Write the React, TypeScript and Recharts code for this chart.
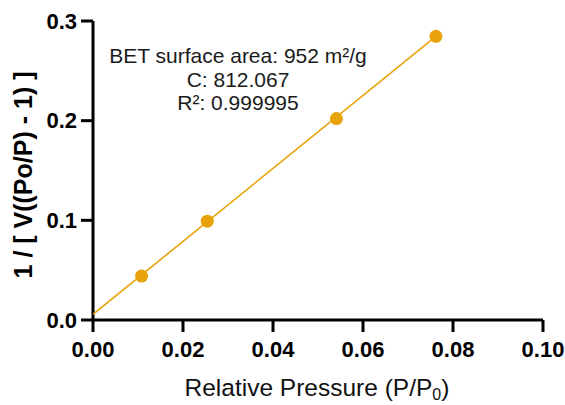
import React from "react";
import {
  ScatterChart,
  Scatter,
  XAxis,
  YAxis,
  Label,
} from "recharts";

// measured BET points (P/P0, 1/[V((Po/P)-1)])
const pressure = [0.0108, 0.0254, 0.0541, 0.0762];
const betValue = [0.0441, 0.0992, 0.2021, 0.2846];

// fitted line end points
const fitX = [0, 0.0762];
const fitY = [0.0057, 0.2846];

const xTicks = [0, 0.02, 0.04, 0.06, 0.08, 0.1];
const yTicks = [0, 0.1, 0.2, 0.3];

const notes = ["BET surface area: 952 m²/g", "C: 812.067", "R²: 0.999995"];

const points = pressure.map((x, i) => ({ x, y: betValue[i] }));
const fit = fitX.map((x, i) => ({ x, y: fitY[i] }));

const ORANGE = "#E8A30B";
const FONT = "'Liberation Sans', Arial, Helvetica, sans-serif";

export default function App() {
  return (
    <div style={{ position: "absolute", left: 0, top: 0, width: 565, height: 405, background: "#fff" }}>
      <ScatterChart
        width={565}
        height={405}
        margin={{ top: 21, right: 22, bottom: 0, left: 0 }}
        style={{ fontFamily: FONT }}
      >
        <XAxis
          type="number"
          dataKey="x"
          domain={[0, 0.1]}
          ticks={xTicks}
          tickFormatter={(v: number) => v.toFixed(2)}
          height={85}
          tickSize={12}
          tickMargin={9}
          axisLine={{ stroke: "#000", strokeWidth: 3 }}
          tickLine={{ stroke: "#000", strokeWidth: 3 }}
          tick={{ fill: "#000", fontSize: 22, fontWeight: 700, fontFamily: FONT }}
          allowDataOverflow
        >
          <Label
            content={() => (
              <text
                x={317}
                y={396}
                textAnchor="middle"
                fontSize={24.5}
                fill="#111"
                fontFamily={FONT}
              >
                Relative Pressure (P/P
                <tspan dy={4} fontSize={16}>0</tspan>
                <tspan dy={-4}>)</tspan>
              </text>
            )}
          />
        </XAxis>
        <YAxis
          type="number"
          dataKey="y"
          domain={[0, 0.3]}
          ticks={yTicks}
          tickFormatter={(v: number) => v.toFixed(1)}
          width={93}
          tickSize={12}
          tickMargin={4}
          axisLine={{ stroke: "#000", strokeWidth: 3 }}
          tickLine={{ stroke: "#000", strokeWidth: 3 }}
          tick={{ fill: "#000", fontSize: 22, fontWeight: 700, fontFamily: FONT }}
          allowDataOverflow
        >
          <Label
            content={() => (
              <text
                x={23}
                y={175}
                transform="rotate(-90 23 175)"
                textAnchor="middle"
                dominantBaseline="central"
                fontSize={25}
                fontWeight={700}
                fill="#000"
                fontFamily={FONT}
              >
                1 / [ V((Po/P) - 1) ]
              </text>
            )}
          />
        </YAxis>
        <Scatter
          data={fit}
          line={{ stroke: ORANGE, strokeWidth: 1.6 }}
          shape={() => <g />}
          isAnimationActive={false}
        />
        <Scatter
          data={points}
          fill={ORANGE}
          shape={(p: any) => <circle cx={p.cx} cy={p.cy} r={6.5} fill={ORANGE} />}
          isAnimationActive={false}
        />
      </ScatterChart>
      <div
        style={{
          position: "absolute",
          left: 88,
          top: 44,
          width: 300,
          textAlign: "center",
          fontFamily: FONT,
          fontSize: 21,
          lineHeight: "23.5px",
          color: "#1a1a1a",
          whiteSpace: "nowrap",
        }}
      >
        {notes.map((n) => (
          <div key={n}>{n}</div>
        ))}
      </div>
    </div>
  );
}
